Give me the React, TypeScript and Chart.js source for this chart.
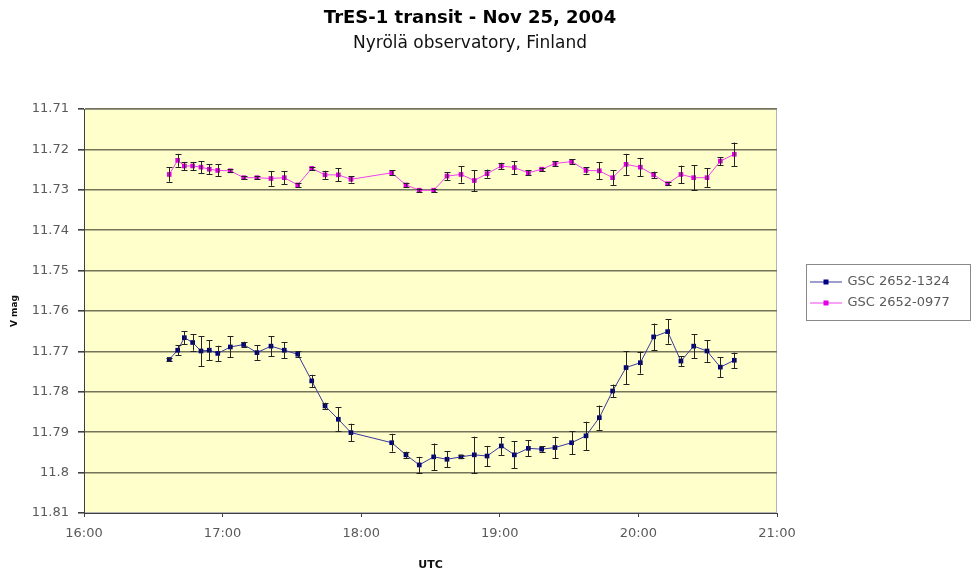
import React, { useEffect, useRef } from 'react';
import { Chart, registerables } from 'chart.js';

Chart.register(...registerables);

// ---- data ----
const titleText = 'TrES-1 transit - Nov 25, 2004';
const subtitleText = 'Nyrölä observatory, Finland';
const xAxisTitle = 'UTC';
const yAxisTitle = 'V mag';
const seriesNames = ['GSC 2652-1324', 'GSC 2652-0977'];

// observation times, decimal hours UTC
const utcHours = [
  16.615, 16.676, 16.724, 16.784, 16.844, 16.904, 16.965, 17.056, 17.152, 17.248,
  17.349, 17.445, 17.542, 17.643, 17.739, 17.835, 17.926, 18.22, 18.323, 18.419,
  18.523, 18.619, 18.72, 18.816, 18.908, 19.011, 19.105, 19.206, 19.302, 19.398,
  19.518, 19.622, 19.718, 19.814, 19.911, 20.014, 20.11, 20.211, 20.307, 20.399,
  20.495, 20.591, 20.692,
];

const gsc1324Mag = [
  11.772, 11.7697, 11.7666, 11.7678, 11.7699, 11.7697, 11.7705, 11.7689, 11.7683, 11.7703,
  11.7687, 11.7697, 11.7707, 11.7773, 11.7835, 11.7868, 11.7901, 11.7926, 11.7956, 11.7981,
  11.7961, 11.7967, 11.7961, 11.7956, 11.7959, 11.7934, 11.7956, 11.794, 11.7942, 11.7938,
  11.7926, 11.7909, 11.7864, 11.7798, 11.774, 11.7728, 11.7664, 11.7651, 11.7724, 11.7687,
  11.7699, 11.7739, 11.7722,
];
const gsc1324Err = [
  0.0004, 0.0012, 0.0016, 0.002, 0.0037, 0.0025, 0.0019, 0.0026, 0.0007, 0.0018,
  0.0025, 0.002, 0.0008, 0.0015, 0.0008, 0.003, 0.0022, 0.0022, 0.0008, 0.002,
  0.0033, 0.002, 0.0004, 0.0045, 0.0025, 0.0022, 0.0033, 0.002, 0.0007, 0.0027,
  0.0028, 0.0035, 0.003, 0.0016, 0.0041, 0.0027, 0.0033, 0.003, 0.0012, 0.003,
  0.0027, 0.0025, 0.0019,
];

const gsc0977Mag = [
  11.7262, 11.7227, 11.7241, 11.7241, 11.7244, 11.7249, 11.7252, 11.7253, 11.727, 11.727,
  11.7272, 11.727, 11.7288, 11.7247, 11.7263, 11.7263, 11.7274, 11.7258, 11.7288, 11.7301,
  11.7301, 11.7266, 11.7262, 11.7277, 11.726, 11.7241, 11.7245, 11.7258, 11.7249, 11.7235,
  11.723, 11.7252, 11.7253, 11.727, 11.7237, 11.7244, 11.7263, 11.7285, 11.7262, 11.727,
  11.727, 11.7229, 11.7212,
];
const gsc0977Err = [
  0.0018, 0.0016, 0.001, 0.001, 0.0015, 0.0012, 0.0015, 0.0004, 0.0004, 0.0004,
  0.0018, 0.0016, 0.0004, 0.0004, 0.001, 0.0016, 0.0008, 0.0006, 0.0004, 0.0004,
  0.0004, 0.001, 0.002, 0.0026, 0.001, 0.0008, 0.0016, 0.0006, 0.0004, 0.0006,
  0.0006, 0.0008, 0.0021, 0.0018, 0.0026, 0.0023, 0.0008, 0.0004, 0.0022, 0.0031,
  0.0023, 0.001, 0.0029,
];

const xMin = 16;
const xMax = 21;
const xStep = 1;
const yMin = 11.71;
const yMax = 11.81;
const yStep = 0.01;

// ---- styles ----
const FONT = "'DejaVu Sans', 'Liberation Sans', Arial, sans-serif";
const PLOT_BG = '#FFFFCC';
const GRID = '#74745a';
const AXIS = '#404040';
const TICK_TEXT = '#5a5a5a';
const COLORS = [
  { line: '#3a3a9c', marker: '#000080' },
  { line: '#ee44ee', marker: '#e000e0' },
];

function makeLegendIcon(lineColor: string, markerColor: string) {
  const c = document.createElement('canvas');
  c.width = 32;
  c.height = 10;
  const g = c.getContext('2d')!;
  g.strokeStyle = lineColor;
  g.lineWidth = 1;
  g.beginPath();
  g.moveTo(0, 5.5);
  g.lineTo(32, 5.5);
  g.stroke();
  g.fillStyle = markerColor;
  g.fillRect(13.5, 3, 5, 5);
  return c;
}

const plotBgPlugin = {
  id: 'plotBg',
  beforeDraw(chart: any) {
    const { ctx, chartArea: a } = chart;
    ctx.save();
    ctx.fillStyle = PLOT_BG;
    ctx.fillRect(a.left, a.top, a.right - a.left, a.bottom - a.top);
    ctx.strokeStyle = '#b4b4b4';
    ctx.lineWidth = 1;
    ctx.strokeRect(a.left + 0.5, a.top + 0.5, a.right - a.left - 1, a.bottom - a.top - 1);
    ctx.restore();
  },
};

const errorBarPlugin = {
  id: 'errorBars',
  afterDatasetsDraw(chart: any) {
    const { ctx, scales } = chart;
    const xs = scales.x;
    const ys = scales.y;
    ctx.save();
    ctx.strokeStyle = '#222222';
    ctx.lineWidth = 1;
    chart.data.datasets.forEach((ds: any) => {
      const errs: number[] = ds.errors || [];
      ds.data.forEach((p: any, i: number) => {
        const e = errs[i];
        if (!e) return;
        const px = Math.round(xs.getPixelForValue(p.x)) + 0.5;
        const y1 = ys.getPixelForValue(p.y - e);
        const y2 = ys.getPixelForValue(p.y + e);
        ctx.beginPath();
        ctx.moveTo(px, y1);
        ctx.lineTo(px, y2);
        ctx.moveTo(px - 3, Math.round(y1) + 0.5);
        ctx.lineTo(px + 3, Math.round(y1) + 0.5);
        ctx.moveTo(px - 3, Math.round(y2) + 0.5);
        ctx.lineTo(px + 3, Math.round(y2) + 0.5);
        ctx.stroke();
      });
    });
    ctx.restore();
  },
};

const layoutPlugin = {
  id: 'layoutTweak',
  afterLayout(chart: any) {
    // centre the titles over the left part of the figure, as in the reference
    chart.boxes.forEach((b: any) => {
      if (b && b.options && typeof b.options.text === 'string' && b.position === 'top') {
        b.left = 0;
        b.right = 940;
      }
    });
    const lg = chart.legend;
    if (lg) {
      lg.left = chart.chartArea.right + 26;
      lg.right = chart.width - 3;
    }
  },
  afterDraw(chart: any) {
    const lg = chart.legend;
    if (!lg || !lg.legendHitBoxes || !lg.legendHitBoxes.length) return;
    const hb = lg.legendHitBoxes;
    const top = hb[0].top - 11;
    const bottom = hb[hb.length - 1].top + hb[hb.length - 1].height + 11;
    const left = lg.left + 3;
    const right = chart.width - 3;
    const { ctx } = chart;
    ctx.save();
    ctx.strokeStyle = '#8a8a8a';
    ctx.lineWidth = 1;
    ctx.strokeRect(Math.round(left) + 0.5, Math.round(top) + 0.5, Math.round(right - left), Math.round(bottom - top));
    ctx.restore();
  },
};

export default function App() {
  const ref = useRef<HTMLCanvasElement>(null);

  useEffect(() => {
    const canvas = ref.current;
    if (!canvas) return;
    const icons = COLORS.map((c) => makeLegendIcon(c.line, c.marker));
    const mags = [gsc1324Mag, gsc0977Mag];
    const errs = [gsc1324Err, gsc0977Err];

    const datasets: any[] = seriesNames.map((name, k) => ({
      label: name,
      data: utcHours.map((t, i) => ({ x: t, y: mags[k][i] })),
      errors: errs[k],
      showLine: true,
      borderColor: COLORS[k].line,
      borderWidth: 1,
      pointStyle: 'rect',
      pointRadius: 3.3,
      pointBackgroundColor: COLORS[k].marker,
      pointBorderColor: COLORS[k].marker,
      pointBorderWidth: 0,
    }));

    const chart = new Chart(canvas, {
      type: 'scatter',
      data: { datasets },
      plugins: [plotBgPlugin, errorBarPlugin, layoutPlugin],
      options: {
        animation: false,
        responsive: false,
        events: [],
        layout: { padding: { top: 0, left: 0, right: 186, bottom: 0 } },
        plugins: {
          title: {
            display: true,
            text: titleText,
            color: '#000000',
            font: { family: FONT, size: 18, weight: 'bold' },
            padding: { top: 8, bottom: 3 },
          },
          subtitle: {
            display: true,
            text: subtitleText,
            color: '#111111',
            font: { family: FONT, size: 17, weight: 'normal' },
            padding: { top: 1, bottom: 55 },
          },
          legend: {
            display: true,
            position: 'right',
            maxWidth: 10,
            labels: {
              usePointStyle: true,
              pointStyleWidth: 30,
              padding: 8,
              color: TICK_TEXT,
              font: { family: FONT, size: 13 },
              generateLabels: (ch: any) =>
                ch.data.datasets.map((ds: any, i: number) => ({
                  text: ds.label,
                  pointStyle: icons[i],
                  fillStyle: COLORS[i].marker,
                  strokeStyle: COLORS[i].line,
                  lineWidth: 0,
                  hidden: false,
                  datasetIndex: i,
                  fontColor: TICK_TEXT,
                })),
            },
          },
          tooltip: { enabled: false },
        },
        scales: {
          x: {
            type: 'linear',
            position: 'bottom',
            min: xMin,
            max: xMax,
            afterFit: (s: any) => {
              s.height = 71;
            },
            ticks: {
              stepSize: xStep,
              color: TICK_TEXT,
              font: { family: FONT, size: 13 },
              padding: 9,
              maxRotation: 0,
              callback: (v: any) => `${v}:00`,
            },
            grid: {
              drawOnChartArea: false,
              drawTicks: true,
              tickLength: 4,
              color: AXIS,
            },
            border: { display: true, color: AXIS, width: 1 },
            title: {
              display: true,
              text: xAxisTitle,
              color: '#111111',
              font: { family: FONT, size: 11, weight: 'bold' },
              padding: { top: 0, bottom: 12 },
            },
          },
          y: {
            type: 'linear',
            reverse: true,
            min: yMin,
            max: yMax,
            afterFit: (s: any) => {
              s.width = 84;
            },
            ticks: {
              stepSize: yStep,
              color: TICK_TEXT,
              font: { family: FONT, size: 13 },
              padding: 9,
              callback: (v: any) => String(Math.round(Number(v) * 100) / 100),
            },
            grid: {
              drawOnChartArea: true,
              drawTicks: true,
              tickLength: 6,
              lineWidth: 1.6,
              color: (c: any) => (c.index === 0 ? 'rgba(0,0,0,0)' : GRID),
              tickColor: AXIS,
            },
            border: { display: true, color: AXIS, width: 1 },
            title: {
              display: true,
              text: yAxisTitle,
              color: '#111111',
              font: { family: FONT, size: 9, weight: 'bold' },
              padding: { top: 9, bottom: 0 },
            },
          },
        },
      } as any,
    });

    return () => chart.destroy();
  }, []);

  return (
    <div style={{ position: 'absolute', left: 0, top: 0, width: 973, height: 584, background: '#ffffff' }}>
      <canvas ref={ref} width={973} height={584} style={{ display: 'block' }} />
    </div>
  );
}
